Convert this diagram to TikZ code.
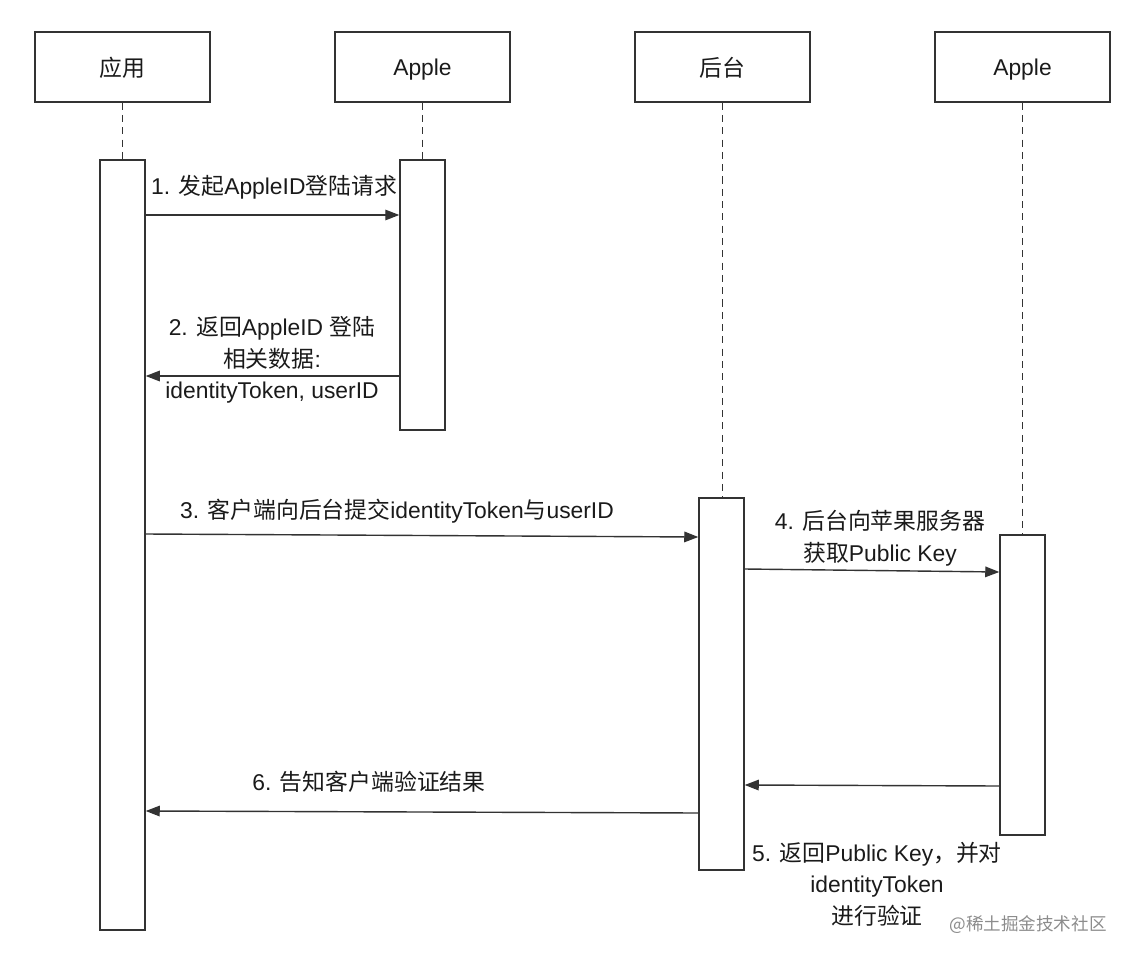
\documentclass[tikz,border=0pt]{standalone}
\usepackage{fontspec}
\setmainfont{Liberation Sans}
\newfontfamily\cjk{Noto Sans CJK SC}
\usetikzlibrary{arrows.meta, positioning}

\definecolor{linegray}{HTML}{333333}
\definecolor{textblack}{HTML}{1A1A1A}
\definecolor{markgray}{HTML}{8C8C8C}

\tikzset{
  head/.style={draw=linegray, line width=0.8pt, minimum width=3.5cm, minimum height=1.4cm, inner sep=0pt, text depth=0pt, text=textblack, font=\fontsize{13}{18}\selectfont},
  bar/.style={draw=linegray, line width=0.8pt, fill=white, minimum width=0.9cm, inner sep=0pt},
  life/.style={draw=linegray, line width=0.7pt, dash pattern=on 4pt off 3pt},
  msg/.style={draw=linegray, line width=0.8pt, -{Triangle[length=8pt, width=6pt]}},
  lbl/.style={align=center, inner sep=0pt, text=textblack, font=\fontsize{13}{18}\selectfont},
}

\begin{document}
\begin{tikzpicture}[x=0.02cm, y=-0.02cm]
\useasboundingbox (0,0) rectangle (1133,960);
\node [head] (hApp)    at (122.5,67)  {\cjk 应用};
\node [head] (hApple)  at (422.5,67)  {Apple};
\node [head] (hServer) at (722.5,67)  {\cjk 后台};
\node [head] (hAuth)   at (1022.5,67) {Apple};
\node [bar, minimum height=15.4cm] (bApp)    at (122.5,545) {};
\node [bar, minimum height=5.4cm]  (bApple)  at (422.5,295) {};
\node [bar, minimum height=7.44cm] (bServer) at (721.5,684) {};
\node [bar, minimum height=6cm]    (bAuth)   at (1022.5,685) {};
\draw [life] (hApp.south)    -- (bApp.north);
\draw [life] (hApple.south)  -- (bApple.north);
\draw [life] (hServer.south) -- (hServer.south |- bServer.north);
\draw [life] (hAuth.south)   -- (hAuth.south |- bAuth.north);
\draw [msg] (bApp.east |- 0,215) -- (bApple.west |- 0,215);
\node [lbl] (t1) at (274,187) {1. {\cjk 发起}AppleID{\cjk 登陆请求}};
\draw [msg] (bApple.west |- 0,376) -- (bApp.east |- 0,376);
\node [lbl] (t2) at (272,360) {2. {\cjk 返回}AppleID {\cjk 登陆}\\{\cjk 相关数据}:\\identityToken, userID};
\draw [msg] (bApp.east |- 0,534) -- (bServer.west |- 0,537);
\node [lbl] (t3) at (397,511) {3. {\cjk 客户端向后台提交}identityToken{\cjk 与}userID};
\draw [msg] (bServer.east |- 0,569) -- (bAuth.west |- 0,572);
\node [lbl] (t4) at (880,538) {4. {\cjk 后台向苹果服务器}\\{\cjk 获取}Public Key};
\draw [msg] (bAuth.west |- 0,786) -- (bServer.east |- 0,785);
\node [lbl] (t5) at (877,884) {5. {\cjk 返回}Public Key{\cjk ，并对}\\identityToken\\{\cjk 进行验证}};
\draw [msg] (bServer.west |- 0,813) -- (bApp.east |- 0,811);
\node [lbl] (t6) at (369,782) {6. {\cjk 告知客户端验证结果}};
\node [text=markgray, inner sep=0pt, font=\cjk\fontsize{10}{12}\selectfont] (mark) at (1028,925) {@稀土掘金技术社区};
\end{tikzpicture}
\end{document}
